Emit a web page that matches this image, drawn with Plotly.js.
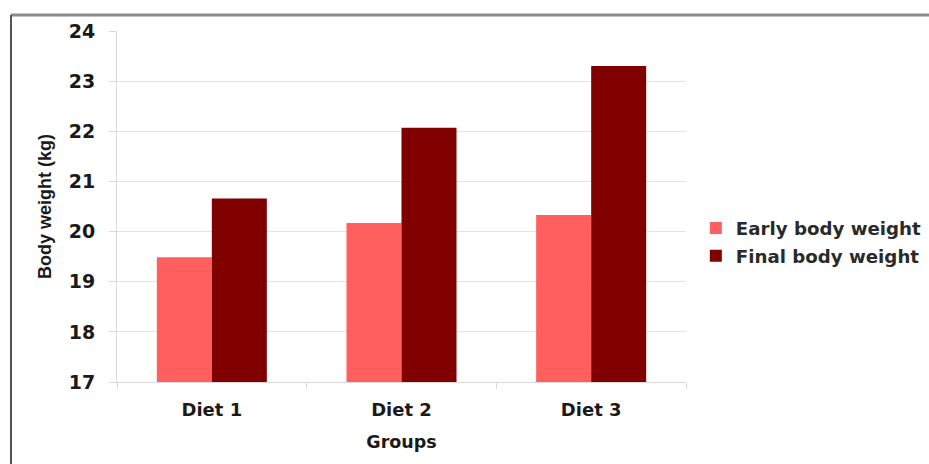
<!DOCTYPE html>
<html>
<head>
<meta charset="utf-8">
<script src="https://cdn.plot.ly/plotly-3.0.1.min.js"></script>
<style>html,body{margin:0;padding:0;background:#fff;}#chart{width:929px;height:464px;}</style>
</head>
<body>
<div id="chart"></div>
<script>
const categories = ["Diet 1", "Diet 2", "Diet 3"];
const earlyWeight = [19.49, 20.17, 20.33];
const finalWeight = [20.66, 22.07, 23.30];
const seriesNames = ["Early body weight", "Final body weight"];
const yTicks = [17, 18, 19, 20, 21, 22, 23, 24];

const tickFont = {size: 19, family: "DejaVu Sans, Verdana, sans-serif", weight: "bold", color: "#1a1a1a"};

const traces = [
  {type: "bar", x: categories, y: earlyWeight, name: seriesNames[0],
   marker: {color: "#ff5f5f"}, legendgroup: "a", hoverinfo: "skip"},
  {type: "bar", x: categories, y: finalWeight, name: seriesNames[1],
   marker: {color: "#800000"}, legendgroup: "b", hoverinfo: "skip"}
];

const layout = {
  width: 929, height: 464,
  margin: {l: 117, r: 243, t: 31, b: 82},
  paper_bgcolor: "#ffffff", plot_bgcolor: "#ffffff",
  barmode: "group", bargap: 0.42, bargroupgap: 0,
  font: {family: "DejaVu Sans, Verdana, sans-serif", color: "#1a1a1a"},
  xaxis: {
    showgrid: false, showline: true, linecolor: "#d9d9d9", linewidth: 1,
    ticks: "outside", tickson: "boundaries", ticklen: 6, tickcolor: "#d9d9d9",
    ticklabelstandoff: 11,
    tickfont: {size: 18, family: "DejaVu Sans, Verdana, sans-serif", weight: "bold", color: "#1a1a1a"},
    title: {text: "Groups", font: {size: 17.5, family: "DejaVu Sans, Verdana, sans-serif", weight: "bold", color: "#1a1a1a"}, standoff: 17}
  },
  yaxis: {
    range: [17, 24], tickvals: yTicks, ticktext: yTicks.map(String),
    showgrid: true, gridcolor: "#e3e3e3", gridwidth: 1,
    showline: true, linecolor: "#d9d9d9", zeroline: false,
    ticks: "outside", ticklen: 7, tickcolor: "#d9d9d9",
    ticklabelstandoff: 10,
    tickfont: tickFont,
    title: {text: "Body weight (kg)", font: {size: 18, family: "Liberation Sans, Arial, sans-serif", weight: "bold", color: "#1a1a1a"}, standoff: 12}
  },
  legend: {
    xref: "container", yref: "container",
    x: 0.749, xanchor: "left", y: 0.478, yanchor: "middle",
    font: {size: 18.2, family: "DejaVu Sans, Verdana, sans-serif", weight: "bold", color: "#2a2a2a"},
    itemwidth: 30, traceorder: "grouped", tracegroupgap: 1,
    borderwidth: 0, bgcolor: "rgba(0,0,0,0)"
  },
  showlegend: true,
  shapes: [
    {type: "line", xref: "paper", yref: "paper", x0: -0.1863, x1: 2, y0: 1.0456, y1: 1.0456,
     line: {color: "#8a8a8a", width: 3}},
    {type: "line", xref: "paper", yref: "paper", x0: -0.1863, x1: -0.1863, y0: 1.0456, y1: -0.3,
     line: {color: "#555", width: 2}}
  ]
};

Plotly.newPlot("chart", traces, layout, {staticPlot: true, displayModeBar: false});
</script>
</body>
</html>
